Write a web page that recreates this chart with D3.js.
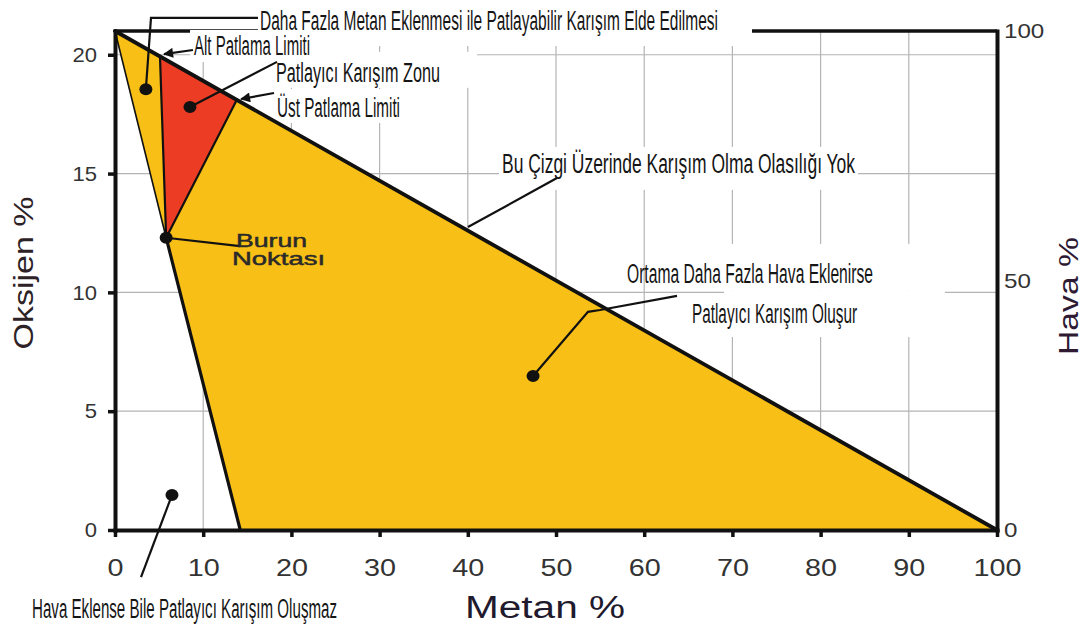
<!DOCTYPE html>
<html>
<head>
<meta charset="utf-8">
<script src="https://cdnjs.cloudflare.com/ajax/libs/d3/7.8.5/d3.min.js"></script>
<style>
  body { margin: 0; background: #fff; }
  svg { display: block; }
</style>
</head>
<body>
<div id="chart"></div>
<script>
// data, in (Metan %, Oksijen %)
const flammableArea = [[0, 21], [100, 0], [14.2, 0], [5.8, 12.3]];
const explosiveZone = [[5.1, 19.93], [13.8, 18.1], [5.8, 12.3]];
const noAirLine = [[0, 21], [100, 0]];
const noseLeftEdge = [[0, 21], [5.8, 12.3]];
const noseBottomEdge = [[5.8, 12.3], [14.2, 0]];
const lowerLimitEdge = [[5.1, 19.93], [5.8, 12.3]];
const upperLimitEdge = [[13.8, 18.1], [5.8, 12.3]];
const markerPoints = [[3.5, 18.55], [8.5, 17.8], [5.8, 12.3], [47.4, 6.48], [6.46, 1.47]];

const xTicks = [0, 10, 20, 30, 40, 50, 60, 70, 80, 90, 100];
const yTicks = [0, 5, 10, 15, 20];
const havaTicks = [0, 50, 100];

const noteTexts = [
    'Daha Fazla Metan Eklenmesi ile Patlayabilir Karışım Elde Edilmesi',
    'Alt Patlama Limiti',
    'Patlayıcı Karışım Zonu',
    'Üst Patlama Limiti',
    'Bu Çizgi Üzerinde Karışım Olma Olasılığı Yok',
    'Ortama Daha Fazla Hava Eklenirse',
    'Patlayıcı Karışım Oluşur',
    'Hava Eklense Bile Patlayıcı Karışım Oluşmaz',
    'Burun',
    'Noktası'
];

// layout of the notes: x/y in data units (baseline), w = text width px, pad = white box [l,t,r,b]
const noteLayout = [
    {x: 16.44, y: 21.04, w: 458, cap: 20, pad: [2, 12, 34, 16]},
    {x: 8.96, y: 19.99, w: 116, cap: 20, pad: [4, 5, 4, 7]},
    {x: 18.25, y: 18.86, w: 164, cap: 20, pad: [4, 10, 37, 6]},
    {x: 18.37, y: 17.38, w: 123, cap: 20, pad: [4, 8, 4, 6]},
    {x: 43.88, y: 15.03, w: 353, cap: 20, pad: [3, 6, 3, 17]},
    {x: 58.05, y: 10.40, w: 246, cap: 20, pad: [-30, 19, 72, 8]},
    {x: 65.42, y: 8.71, w: 165, cap: 18, pad: [-32, 14, 88, 14]},
    {x: -9.41, y: -3.70, w: 305, cap: 20, pad: null},
    {x: 13.72, y: 11.91, w: 71, cap: 14, pad: null, plain: true},
    {x: 13.27, y: 11.15, w: 93, cap: 14, pad: null, plain: true}
];

const leaderLayout = [
    {pts: [[16.21, 21.55], [4.08, 21.55], markerPoints[0]]},
    {pts: [[8.84, 20.20], [5.56, 20.03]], arrow: true},
    {pts: [[18.37, 19.70], markerPoints[1]]},
    {pts: [[18.03, 18.39], [14.29, 18.14]], arrow: true},
    {pts: [[40.02, 12.75], [50.11, 14.81]]},
    {pts: [markerPoints[2], [14.17, 11.95]]},
    {pts: [markerPoints[3], [53.63, 9.18], [54.99, 9.26], [63.72, 9.85]]},
    {pts: [markerPoints[4], [2.95, -1.98]]}
];

//Measures
const width = 1087;
const height = 634;

//Colors
const yellow = '#f8bf16';
const red = '#ec3d24';
const gridColor = '#b4b4b4';
const ink = '#111';

const baseFont = '"Liberation Sans", Arial, sans-serif';
const narrowFont = '"Liberation Sans Narrow", "Arial Narrow", "Liberation Sans", Arial, sans-serif';

const svg = d3.select('#chart').append('svg')
    .attr('width', width)
    .attr('height', height);

const x = d3.scaleLinear().domain([0, 100]).range([115, 997]);
const y = d3.scaleLinear().domain([0, 21]).range([530, 31]);
const yHava = d3.scaleLinear().domain([0, 100]).range([530, 31]);
const line = d3.line().x(d => x(d[0])).y(d => y(d[1]));

svg.append('defs').append('marker')
    .attr('id', 'arrow')
    .attr('viewBox', '0 -5 10 10')
    .attr('refX', 9)
    .attr('refY', 0)
    .attr('markerUnits', 'userSpaceOnUse')
    .attr('markerWidth', 12)
    .attr('markerHeight', 10)
    .attr('orient', 'auto')
    .append('path')
    .attr('d', 'M0,-5L10,0L0,5Z')
    .attr('fill', ink);

drawGrid();
drawBoxes();
drawRegions();
drawAxes();
drawNotes();

function drawGrid() {
    const g = svg.append('g');
    g.selectAll('.vg').data(xTicks.slice(1, -1)).join('line')
        .attr('x1', d => x(d)).attr('x2', d => x(d))
        .attr('y1', y(0)).attr('y2', y(21))
        .attr('stroke', gridColor).attr('stroke-width', 1.2);
    g.selectAll('.hg').data(yTicks.slice(1)).join('line')
        .attr('x1', x(0)).attr('x2', x(100))
        .attr('y1', d => y(d)).attr('y2', d => y(d))
        .attr('stroke', gridColor).attr('stroke-width', 1.2);
    // top frame
    g.append('line')
        .attr('x1', x(0)).attr('x2', x(100))
        .attr('y1', y(21)).attr('y2', y(21))
        .attr('stroke', ink).attr('stroke-width', 3.5);
}

function drawBoxes() {
    noteLayout.forEach(n => {
        if (!n.pad) return;
        const bx = x(n.x), by = y(n.y);
        svg.append('rect')
            .attr('x', bx - n.pad[0])
            .attr('y', by - n.cap - n.pad[1])
            .attr('width', n.w + n.pad[0] + n.pad[2])
            .attr('height', n.cap + n.pad[1] + n.pad[3])
            .attr('fill', '#fff');
    });
}

function drawRegions() {
    svg.append('path').datum(flammableArea)
        .attr('d', d => line(d) + 'Z')
        .attr('fill', yellow);
    svg.append('path').datum(explosiveZone)
        .attr('d', d => line(d) + 'Z')
        .attr('fill', red);

    const edges = [
        [noseLeftEdge, 1.6],
        [lowerLimitEdge, 2.2],
        [upperLimitEdge, 2.2],
        [noseBottomEdge, 3.2],
        [noAirLine, 3.8]
    ];
    edges.forEach(e => {
        svg.append('path').datum(e[0])
            .attr('d', line)
            .attr('fill', 'none')
            .attr('stroke', ink)
            .attr('stroke-width', e[1])
            .attr('stroke-linecap', 'round');
    });
}

function stretch(sel, factor) {
    sel.each(function () {
        const len = this.getComputedTextLength();
        d3.select(this)
            .attr('textLength', len * factor)
            .attr('lengthAdjust', 'spacingAndGlyphs');
    });
}

function styleAxis(g, fs, factor) {
    g.select('.domain').attr('stroke', ink).attr('stroke-width', 4).attr('stroke-linecap', 'square');
    g.selectAll('.tick line').attr('stroke', ink).attr('stroke-width', 3.5);
    g.selectAll('.tick text')
        .attr('fill', '#333')
        .style('font-family', baseFont)
        .style('font-size', fs + 'px');
    stretch(g.selectAll('.tick text'), factor);
}

function drawAxes() {
    const gx = svg.append('g').attr('transform', 'translate(0,' + y(0) + ')')
        .call(d3.axisBottom(x).tickValues(xTicks).tickSize(7).tickPadding(23).tickSizeOuter(0));
    styleAxis(gx, 23, 1.25);

    const gy = svg.append('g').attr('transform', 'translate(' + x(0) + ',0)')
        .call(d3.axisLeft(y).tickValues(yTicks).tickSize(7).tickPadding(11).tickSizeOuter(0));
    styleAxis(gy, 21, 1.05);

    const gr = svg.append('g').attr('transform', 'translate(' + x(100) + ',0)')
        .call(d3.axisRight(yHava).tickValues(havaTicks).tickSize(0).tickPadding(7).tickSizeOuter(0));
    styleAxis(gr, 21, 1.15);

    svg.append('text')
        .text('Metan %')
        .attr('x', 545).attr('y', 618)
        .attr('text-anchor', 'middle')
        .attr('fill', '#1f1a2e')
        .attr('textLength', 160).attr('lengthAdjust', 'spacingAndGlyphs')
        .style('font-family', baseFont).style('font-size', '31px');

    svg.append('text')
        .text('Oksijen %')
        .attr('transform', 'translate(33,273) rotate(-90)')
        .attr('text-anchor', 'middle')
        .attr('fill', '#2d2226')
        .attr('textLength', 153).attr('lengthAdjust', 'spacingAndGlyphs')
        .style('font-family', baseFont).style('font-size', '28px');

    svg.append('text')
        .text('Hava %')
        .attr('transform', 'translate(1078,296) rotate(-90)')
        .attr('text-anchor', 'middle')
        .attr('fill', '#2e1a33')
        .attr('textLength', 118).attr('lengthAdjust', 'spacingAndGlyphs')
        .style('font-family', baseFont).style('font-size', '28px');
}

function drawNotes() {
    leaderLayout.forEach(l => {
        svg.append('path').datum(l.pts)
            .attr('d', line)
            .attr('fill', 'none')
            .attr('stroke', ink)
            .attr('stroke-width', 2.2)
            .attr('marker-end', l.arrow ? 'url(#arrow)' : null);
    });

    svg.selectAll('.dot').data(markerPoints).join('ellipse')
        .attr('cx', d => x(d[0]))
        .attr('cy', d => y(d[1]))
        .attr('rx', 6.5)
        .attr('ry', 6)
        .attr('fill', ink);

    noteTexts.forEach((t, i) => {
        const n = noteLayout[i];
        svg.append('text')
            .text(t)
            .attr('x', x(n.x))
            .attr('y', y(n.y))
            .attr('fill', n.plain ? '#2a2a2a' : '#151515')
            .attr('stroke', n.plain ? '#2a2a2a' : 'none')
            .attr('stroke-width', n.plain ? 0.5 : 0)
            .attr('textLength', n.w)
            .attr('lengthAdjust', 'spacingAndGlyphs')
            .style('font-family', n.plain ? baseFont : narrowFont)
            .style('font-size', n.plain ? '19px' : '27px');
    });
}
</script>
</body>
</html>
